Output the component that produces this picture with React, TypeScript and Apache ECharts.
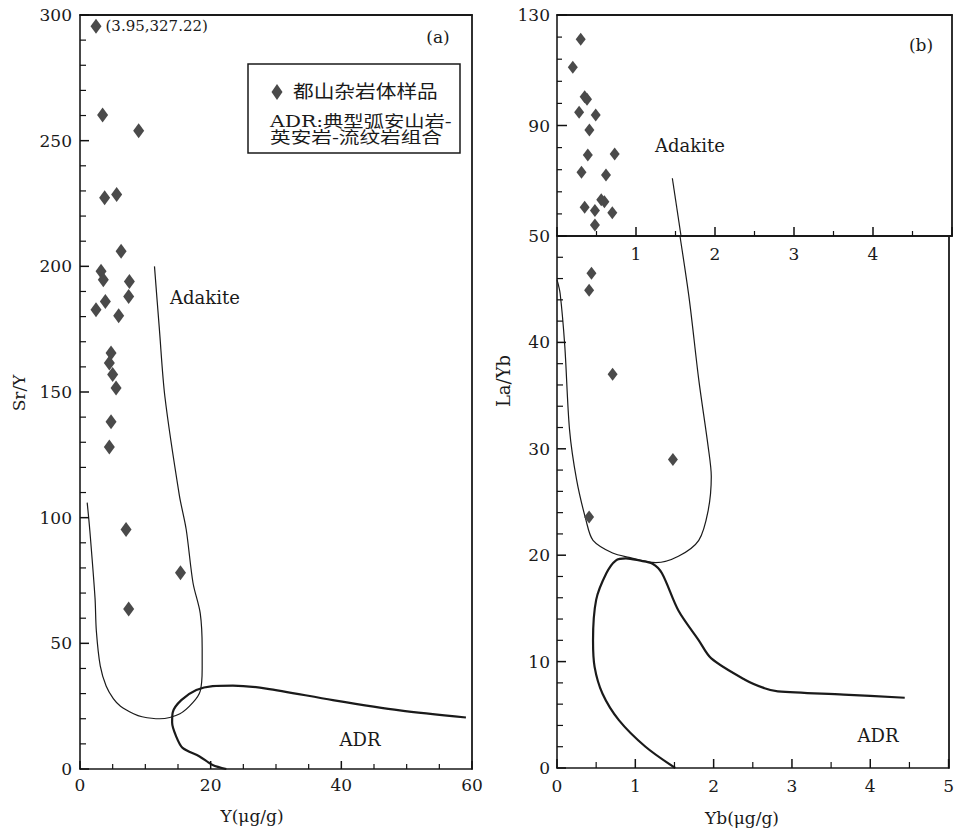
import React, { useEffect, useRef } from "react";
import * as echarts from "echarts";

// ---------- Panel (a): Sr/Y vs Y(μg/g) ----------
const panelASamples: [number, number][] = [
  [3.46, 260.2], [8.98, 253.9], [3.77, 227.3], [5.61, 228.6], [6.29, 206.0],
  [3.22, 198.0], [3.57, 194.7], [7.56, 194.0], [7.45, 188.0], [3.88, 186.0],
  [2.45, 182.7], [5.92, 180.3], [4.75, 165.5], [4.49, 161.5], [5.0, 157.0],
  [5.52, 151.6], [4.75, 138.2], [4.49, 128.1], [7.05, 95.3], [15.38, 78.1],
  [7.45, 63.7],
];
const panelAOffscalePoint: [number, number] = [2.45, 295.5];
const panelAOffscaleLabel = "(3.95,327.22)";
const panelAAdakite: [number, number][] = [
  [11.4, 200], [12.15, 175], [13.0, 148], [15.2, 109], [16.25, 95.4], [17.3, 74],
  [18.4, 62], [18.7, 48], [18.7, 40], [18.4, 31], [17.3, 26.5], [15.3, 22],
  [12.2, 20], [9.5, 20.8], [8.2, 22], [6.2, 25], [5.1, 28], [4.0, 33],
  [3.1, 41], [2.5, 55], [2.3, 68], [1.5, 95], [1.1, 106],
];
const panelAADR: [number, number][] = [
  [59.07, 20.5], [48.95, 23.3], [38.7, 27.4], [28.5, 32.0], [23.4, 33.2],
  [20.3, 33.0], [17.8, 31.4], [15.5, 27.4], [14.2, 22.6], [14.1, 18.5],
  [14.7, 13.1], [15.7, 8.4], [18.3, 5.0], [20.3, 1.6], [22.4, 0],
];

// ---------- Panel (b): La/Yb vs Yb(μg/g) ----------
const panelBUpperSamples: [number, number][] = [
  [0.30, 121.2], [0.20, 111.1], [0.35, 100.4], [0.38, 99.5], [0.28, 94.8],
  [0.49, 93.8], [0.41, 88.4], [0.39, 79.3], [0.73, 79.7], [0.31, 73.1],
  [0.62, 72.1], [0.35, 60.4], [0.48, 59.2], [0.56, 63.1], [0.60, 62.4],
  [0.70, 58.4], [0.48, 54.0],
];
const panelBLowerSamples: [number, number][] = [
  [0.44, 46.5], [0.41, 44.9], [0.71, 37.0], [1.48, 29.0], [0.41, 23.6],
];
const panelBAdakiteUpper: [number, number][] = [[1.46, 70.9], [1.57, 50]];
const panelBAdakiteLower: [number, number][] = [
  [1.57, 50], [1.69, 44.0], [1.81, 36.5], [1.93, 30.2], [1.97, 27.4],
  [1.93, 24.2], [1.81, 21.4], [1.55, 19.9], [1.26, 19.3], [0.92, 19.8],
  [0.71, 20.2], [0.46, 21.4], [0.37, 23.3], [0.25, 27.1], [0.16, 31.8],
  [0.10, 39.6], [0.04, 44.6], [0, 45.9],
];
const panelBADR: [number, number][] = [
  [4.44, 6.6], [3.66, 6.9], [2.82, 7.2], [2.65, 7.5], [2.40, 8.3],
  [1.97, 10.3], [1.81, 12.0], [1.55, 14.8], [1.34, 18.3], [1.22, 19.2],
  [1.05, 19.5], [0.88, 19.7], [0.75, 19.5], [0.63, 18.3], [0.50, 15.8],
  [0.46, 12.0], [0.48, 9.5], [0.58, 7.0], [0.79, 4.5], [1.13, 2.0], [1.51, 0],
];

// ---------- tick values ----------
const aXMajor = [0, 20, 40, 60];
const aXMinor = [5, 10, 15, 25, 30, 35, 45, 50, 55];
const aYMajor = [0, 50, 100, 150, 200, 250, 300];
const aYMinor = [10, 20, 30, 40, 60, 70, 80, 90, 110, 120, 130, 140, 160, 170, 180, 190, 210, 220, 230, 240, 260, 270, 280, 290];
const bXMajor = [0, 1, 2, 3, 4, 5];
const bXMinor = [0.5, 1.5, 2.5, 3.5, 4.5];
const bUpperYMajor = [50, 90, 130];
const bUpperYMinor = [58, 66, 74, 82, 98, 106, 114, 122];
const bLowerYMajor = [0, 10, 20, 30, 40, 50];
const bLowerYMinor = [2, 4, 6, 8, 12, 14, 16, 18, 22, 24, 26, 28, 32, 34, 36, 38, 42, 44, 46, 48];

const sampleName = "都山杂岩体样品";
const legendNote1 = "ADR:典型弧安山岩-";
const legendNote2 = "英安岩-流纹岩组合";

const INK = "#1a1a1a";
const MARK = "#4a4a4a";
const FONT = "'DejaVu Serif', 'Noto Sans CJK SC', serif";

const axLine = (w = 1.6) => ({ show: true, onZero: false, lineStyle: { color: INK, width: w } });
const label = (margin: number, extra: any = {}) => ({ show: true, color: INK, fontFamily: FONT, fontSize: 17, margin, ...extra });
const border = (gridIndex: number, position: string) => ({
  type: "value", gridIndex, position, min: 0, max: 1,
  axisLine: axLine(1.8), axisTick: { show: false }, minorTick: { show: false },
  axisLabel: { show: false }, splitLine: { show: false }, silent: true,
});

// tick marks drawn through the axes' own scale (api.coord)
const tickSeries = (xi: number, yi: number, orient: "x" | "y", values: number[], fixed: number, len: number, width: number) => ({
  type: "custom",
  xAxisIndex: xi,
  yAxisIndex: yi,
  silent: true,
  clip: false,
  z: 3,
  data: values.map((v) => (orient === "x" ? [v, fixed] : [fixed, v])),
  renderItem: (_p: any, api: any) => {
    const pt = api.coord([api.value(0), api.value(1)]);
    const x2 = orient === "y" ? pt[0] + len : pt[0];
    const y2 = orient === "x" ? pt[1] - len : pt[1];
    return { type: "line", shape: { x1: pt[0], y1: pt[1], x2, y2 }, style: { stroke: "#111111", lineWidth: width } };
  },
});

export default function App() {
  const ref = useRef<HTMLDivElement>(null);
  useEffect(() => {
    if (!ref.current) return;
    const chart = echarts.init(ref.current, undefined, { renderer: "svg" });
    const txt = (text: string, x: number, y: number, size = 18, extra: any = {}) => ({
      type: "text", x, y, ...extra,
      style: { text, fontFamily: FONT, fontSize: size, fill: INK, textAlign: "center", textVerticalAlign: "middle" },
    });
    chart.setOption({
      animation: false,
      grid: [
        { left: 80, top: 15, width: 392, height: 754 },
        { left: 557, top: 15, width: 395, height: 221 },
        { left: 557, top: 236, width: 395, height: 532 },
      ],
      xAxis: [
        { type: "value", gridIndex: 0, position: "bottom", min: 0, max: 60, interval: 20, axisLine: axLine(), axisTick: { show: false }, splitLine: { show: false }, axisLabel: label(7) },
        border(0, "top"),
        { type: "value", gridIndex: 1, position: "bottom", min: 0, max: 5, interval: 1, axisLine: axLine(2), axisTick: { show: false }, splitLine: { show: false }, axisLabel: label(9, { showMinLabel: false, showMaxLabel: false }) },
        border(1, "top"),
        { type: "value", gridIndex: 2, position: "bottom", min: 0, max: 5, interval: 1, axisLine: axLine(), axisTick: { show: false }, splitLine: { show: false }, axisLabel: label(9) },
      ],
      yAxis: [
        { type: "value", gridIndex: 0, position: "left", min: 0, max: 300, interval: 50, axisLine: axLine(), axisTick: { show: false }, splitLine: { show: false }, axisLabel: label(8) },
        border(0, "right"),
        { type: "value", gridIndex: 1, position: "left", min: 50, max: 130, axisLine: axLine(), axisTick: { show: false }, splitLine: { show: false }, axisLabel: label(7, { customValues: bUpperYMajor }) },
        border(1, "right"),
        { type: "value", gridIndex: 2, position: "left", min: 0, max: 50, interval: 10, axisLine: axLine(), axisTick: { show: false }, splitLine: { show: false }, axisLabel: label(7, { showMaxLabel: false }) },
        border(2, "right"),
      ],
      series: [
        tickSeries(0, 0, "x", aXMajor, 0, 8, 1.5),
        tickSeries(0, 0, "x", aXMinor, 0, 5, 1.2),
        tickSeries(0, 0, "y", aYMajor, 0, 9, 1.5),
        tickSeries(0, 0, "y", aYMinor, 0, 6, 1.2),
        tickSeries(2, 2, "x", bXMajor, 50, 9, 1.5),
        tickSeries(2, 2, "x", bXMinor, 50, 5, 1.2),
        tickSeries(2, 2, "y", bUpperYMajor, 0, 10, 1.5),
        tickSeries(2, 2, "y", bUpperYMinor, 0, 5, 1.2),
        tickSeries(4, 4, "x", bXMajor, 0, 9, 1.5),
        tickSeries(4, 4, "x", bXMinor, 0, 6, 1.2),
        tickSeries(4, 4, "y", bLowerYMajor, 0, 9, 1.5),
        tickSeries(4, 4, "y", bLowerYMinor, 0, 6, 1.2),
        { type: "line", name: "Adakite (a)", xAxisIndex: 0, yAxisIndex: 0, data: panelAAdakite, symbol: "none", smooth: 0.3, lineStyle: { color: INK, width: 1.2 }, z: 2 },
        { type: "line", name: "ADR (a)", xAxisIndex: 0, yAxisIndex: 0, data: panelAADR, symbol: "none", smooth: 0.3, lineStyle: { color: INK, width: 2.2 }, z: 2 },
        {
          type: "scatter", name: sampleName, xAxisIndex: 0, yAxisIndex: 0, symbol: "diamond", symbolSize: [11, 15],
          itemStyle: { color: MARK, opacity: 1 }, z: 5,
          data: [
            ...panelASamples,
            { value: panelAOffscalePoint, label: { show: true, formatter: panelAOffscaleLabel, position: "right", distance: 4, fontFamily: FONT, fontSize: 15, color: INK } },
          ],
        },
        { type: "line", name: "Adakite (b) upper", xAxisIndex: 2, yAxisIndex: 2, data: panelBAdakiteUpper, symbol: "none", lineStyle: { color: INK, width: 1.2 }, z: 2 },
        { type: "scatter", name: sampleName, xAxisIndex: 2, yAxisIndex: 2, symbol: "diamond", symbolSize: [10, 13], itemStyle: { color: MARK, opacity: 1 }, data: panelBUpperSamples, z: 5 },
        { type: "line", name: "Adakite (b)", xAxisIndex: 4, yAxisIndex: 4, data: panelBAdakiteLower, symbol: "none", smooth: 0.3, lineStyle: { color: INK, width: 1.2 }, z: 2 },
        { type: "line", name: "ADR (b)", xAxisIndex: 4, yAxisIndex: 4, data: panelBADR, symbol: "none", smooth: 0.3, lineStyle: { color: INK, width: 2.2 }, z: 2 },
        { type: "scatter", name: sampleName, xAxisIndex: 4, yAxisIndex: 4, symbol: "diamond", symbolSize: [10, 13], itemStyle: { color: MARK, opacity: 1 }, data: panelBLowerSamples, z: 5 },
      ],
      graphic: [
        txt("(a)", 438, 37, 17),
        txt("(b)", 921, 45, 17),
        txt("Adakite", 205, 297, 18),
        txt("ADR", 360, 739, 18),
        txt("Adakite", 690, 145, 18),
        txt("ADR", 878, 735, 18),
        txt("Sr/Y", 19, 393, 17, { rotation: Math.PI / 2 }),
        txt("La/Yb", 503, 381, 18, { rotation: Math.PI / 2 }),
        txt("Y(μg/g)", 252, 816, 17),
        txt("Yb(μg/g)", 742, 818, 17),
        { type: "rect", shape: { x: 248, y: 64, width: 212, height: 89 }, style: { fill: "#fff", stroke: INK, lineWidth: 1.5 }, z: 10 },
        { type: "polygon", shape: { points: [[277, 84], [282.5, 92], [277, 100], [271.5, 92]] }, style: { fill: MARK }, z: 11 },
        { type: "text", x: 293, y: 92, scaleX: 1.15, z: 11, style: { text: sampleName, fontFamily: FONT, fontSize: 18, fill: INK, textAlign: "left", textVerticalAlign: "middle" } },
        { type: "text", x: 270, y: 121, scaleX: 1.27, z: 11, style: { text: legendNote1, fontFamily: FONT, fontSize: 16, fill: INK, textAlign: "left", textVerticalAlign: "middle" } },
        { type: "text", x: 270, y: 137, scaleX: 1.29, z: 11, style: { text: legendNote2, fontFamily: FONT, fontSize: 16, fill: INK, textAlign: "left", textVerticalAlign: "middle" } },
      ],
    });
    return () => chart.dispose();
  }, []);
  return <div ref={ref} style={{ position: "fixed", left: 0, top: 0, width: 957, height: 833, background: "#fff" }} />;
}
